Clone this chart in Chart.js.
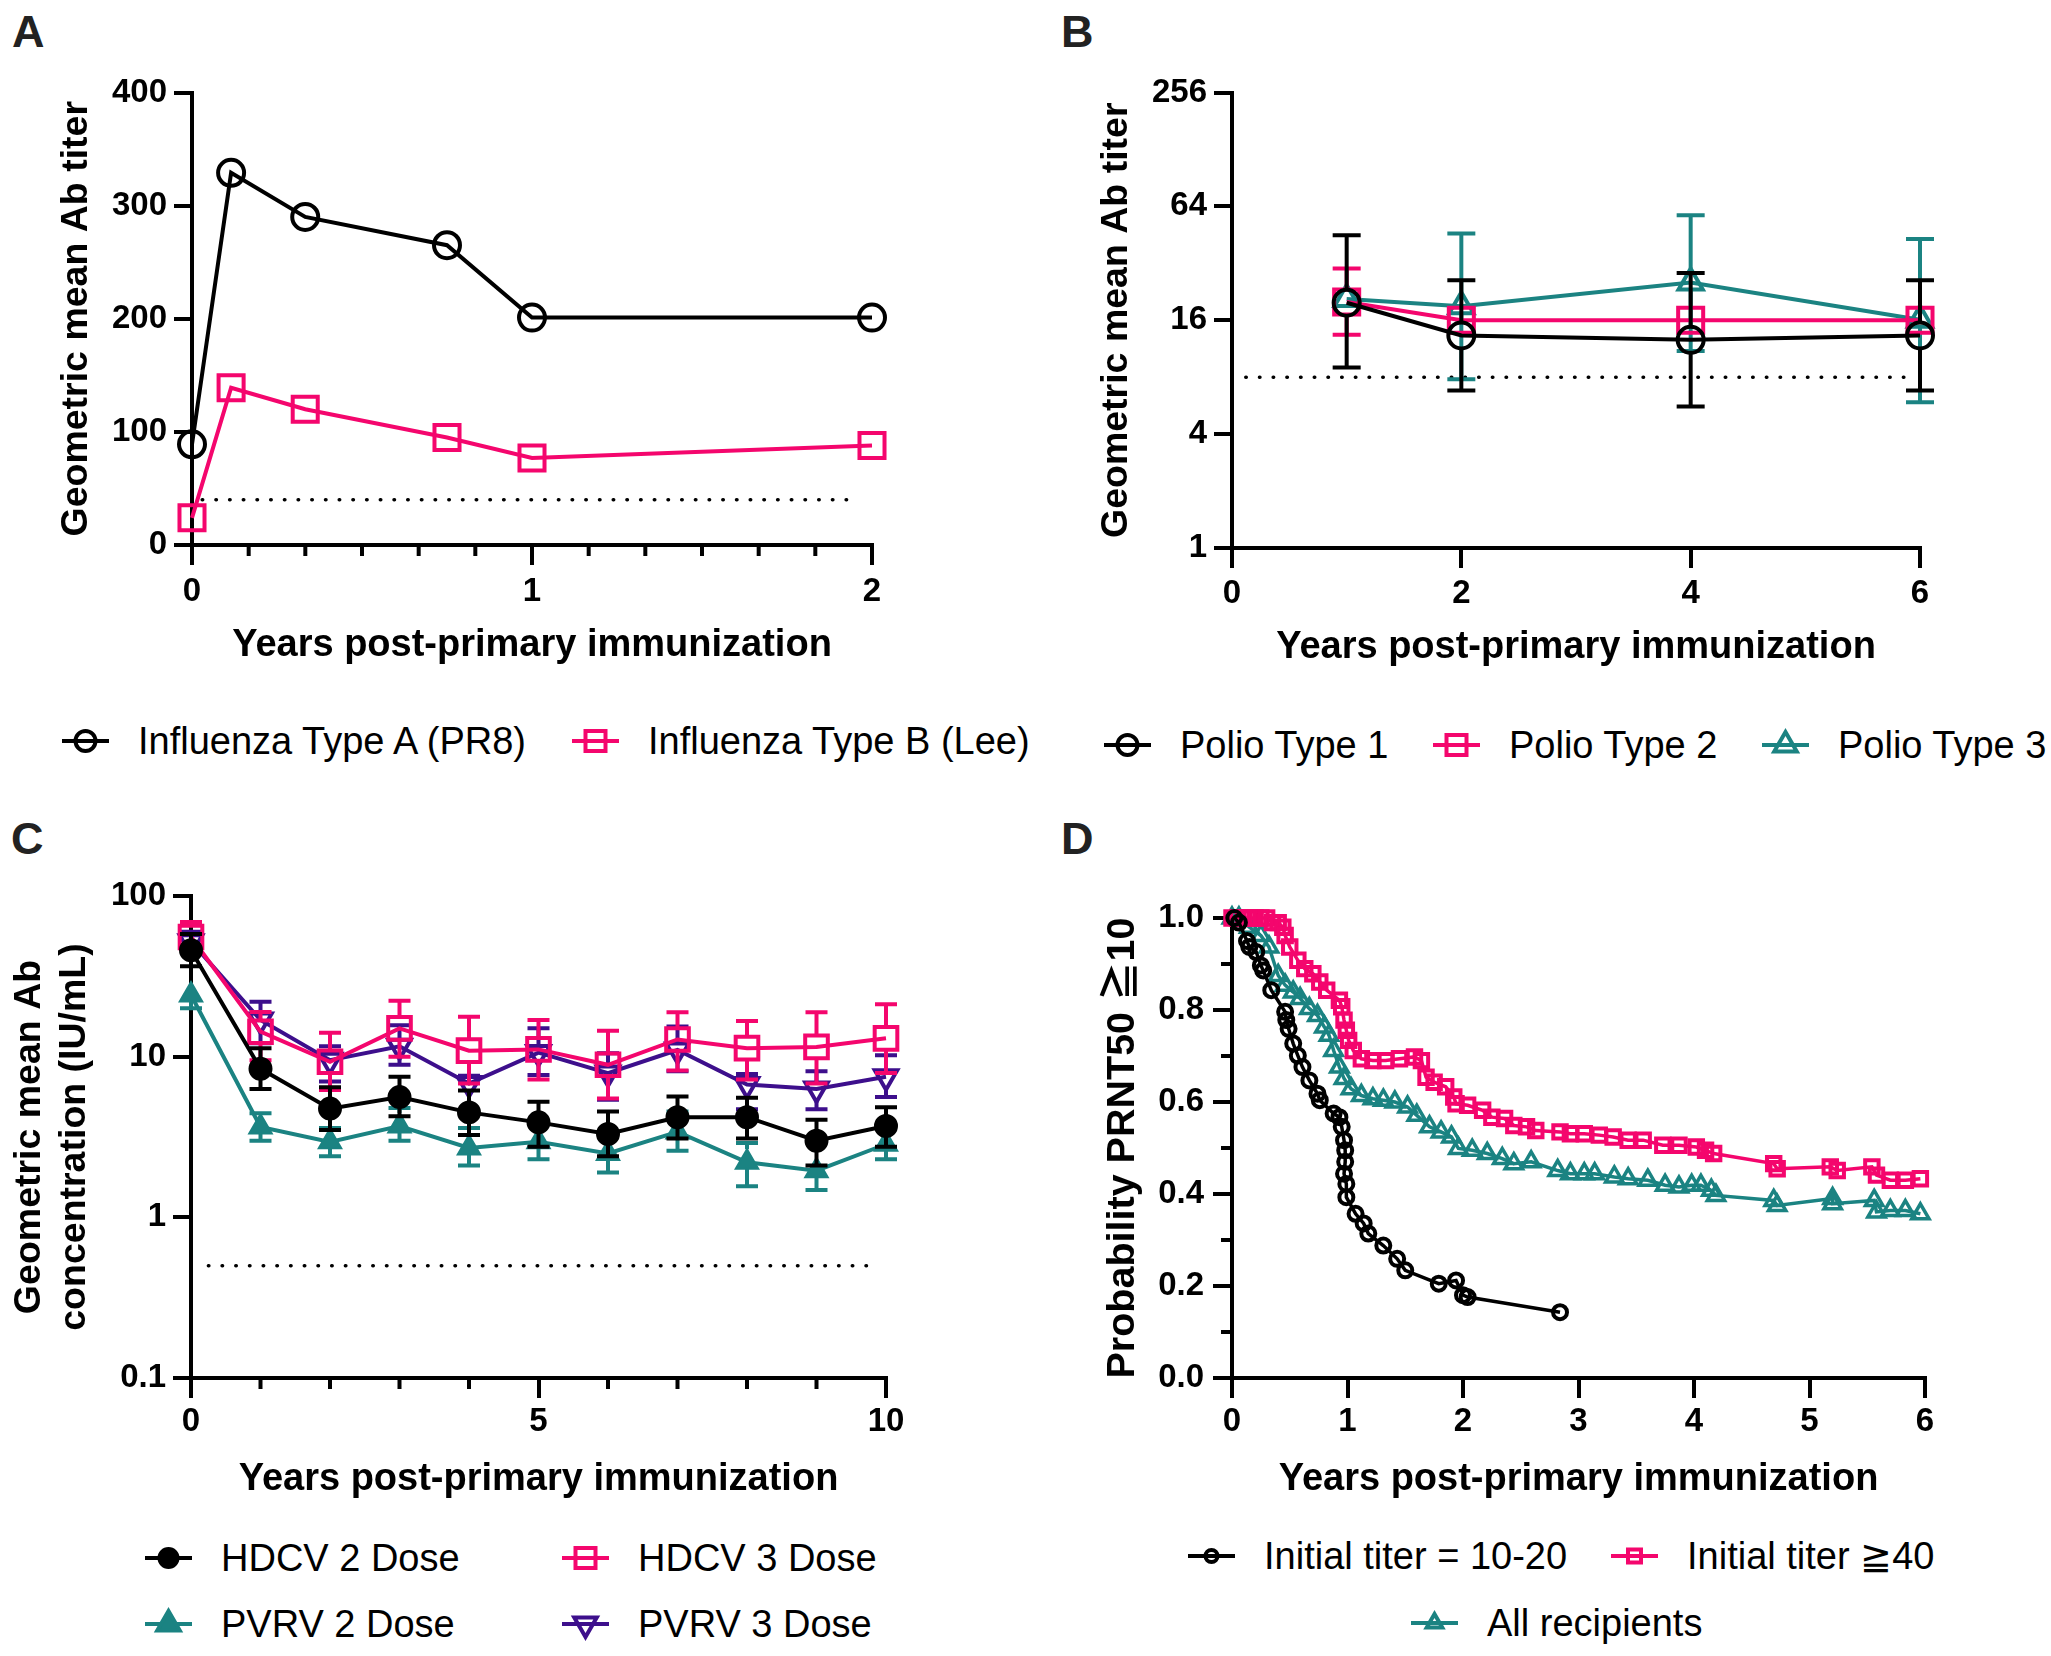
<!DOCTYPE html>
<html>
<head>
<meta charset="utf-8">
<script src="https://cdn.jsdelivr.net/npm/chart.js@4.4.1/dist/chart.umd.min.js"></script>
<style>
body { margin: 0; background: #fff; }
#fig { position: relative; width: 2051px; height: 1656px; background: #fff; font-family: 'Liberation Sans', Arial, sans-serif; overflow: hidden; }
#fig canvas { position: absolute; }
.panel { position: absolute; font-weight: bold; font-size: 45px; line-height: 45px; color: #222; }
.leg { position: absolute; height: 44px; display: flex; align-items: center; font-size: 38px; line-height: 44px; white-space: nowrap; color: #000; }
.leg span { line-height: 44px; }
.leg svg { margin-right: 29px; flex: none; }
</style>
</head>
<body>
<div id="fig">
  <div class="panel" style="left:12px;top:9px">A</div>
  <div class="panel" style="left:1061px;top:9px">B</div>
  <div class="panel" style="left:11px;top:816px">C</div>
  <div class="panel" style="left:1061px;top:816px">D</div>
  <canvas id="chartA" width="1025" height="668" style="left:0;top:0"></canvas>
  <canvas id="chartB" width="1026" height="670" style="left:1025px;top:0"></canvas>
  <canvas id="chartC" width="1025" height="702" style="left:0;top:800px"></canvas>
  <canvas id="chartD" width="1026" height="702" style="left:1025px;top:800px"></canvas>
</div>
<script>
// ---- panel A: influenza
var fluYears = [0, 0.115, 0.333, 0.75, 1, 2];
var fluTypeA = [89, 329, 290, 265, 201, 201];
var fluTypeB = [24, 139, 120, 95, 77, 88];
var fluCutoff = 40;
var fluCutoffX = [0.03, 1.96];
var aTicksX = [0, 1, 2];
var aMinorX = [0.1667, 0.3333, 0.5, 0.6667, 0.8333, 1.1667, 1.3333, 1.5, 1.6667, 1.8333];
var aTicksY = [0, 100, 200, 300, 400];

// ---- panel B: polio
var polioYears = [1, 2, 4, 6];
var polio1 = [19.8, 13.3, 12.6, 13.3];
var polio1Hi = [45, 26, 28.4, 26];
var polio1Lo = [9, 6.8, 5.6, 6.8];
var polio2 = [20, 16, 16, 16];
var polio2Hi = [30, null, null, null];
var polio2Lo = [13.4, null, null, null];
var polio3 = [20.7, 19, 25.3, 16.1];
var polio3Hi = [null, 46, 57.5, 43];
var polio3Lo = [null, 7.8, 11, 5.9];
var polioCutoff = 8;
var polioCutoffX = [0.12, 5.92];
var bTicksX = [0, 2, 4, 6];
var bTicksY = [1, 4, 16, 64, 256];

// ---- panel C: rabies
var rabiesYears = [0, 1, 2, 3, 4, 5, 6, 7, 8, 9, 10];
var hdcv2 = [46, 8.4, 4.75, 5.6, 4.5, 3.9, 3.3, 4.2, 4.2, 3.0, 3.7];
var hdcv2Hi = [58, 11.3, 6.45, 7.5, 6.15, 5.25, 4.55, 5.65, 5.55, 4.05, 4.85];
var hdcv2Lo = [36.6, 6.3, 3.5, 4.25, 3.25, 2.75, 2.4, 3.1, 3.1, 2.1, 2.75];
var pvrv2 = [24.2, 3.65, 2.95, 3.7, 2.7, 2.95, 2.5, 3.4, 2.2, 1.95, 2.85];
var pvrv2Hi = [28.3, 4.45, 3.6, 4.8, 3.6, 3.55, 2.9, 4.55, 2.9, 2.3, 3.3];
var pvrv2Lo = [20, 3.0, 2.4, 3.0, 2.1, 2.3, 1.9, 2.6, 1.56, 1.48, 2.3];
var hdcv3 = [55.6, 14.3, 9.3, 15, 10.9, 11.1, 8.9, 12.8, 11.3, 11.5, 13];
var hdcv3Hi = [69, 19, 14.1, 22.3, 17.7, 16.9, 14.5, 18.9, 16.7, 18.9, 21.2];
var hdcv3Lo = [45, 9.5, 6.2, 10, 6.8, 7.2, 5.5, 8.2, 7.2, 6.8, 7.9];
var pvrv3 = [52, 16.9, 9.5, 11.6, 6.8, 10.6, 7.9, 11, 6.7, 6.3, 7.5];
var pvrv3Hi = [60, 22, 11.6, 15.7, 7.6, 15, 10.5, 15.4, 7.8, 8.1, 10.2];
var pvrv3Lo = [44, 12.1, 7, 8.9, 5.9, 7.7, 5.4, 8.1, 4.7, 4.7, 5.6];
var rabiesCutoff = 0.5;
var rabiesCutoffX = [0.25, 9.8];
var cTicksX = [0, 5, 10];
var cMinorX = [1, 2, 3, 4, 6, 7, 8, 9];
var cTicksY = [0.1, 1, 10, 100];

// ---- panel D: survival of PRNT50 >= 10
var lowX = [0.02, 0.06, 0.13, 0.15, 0.21, 0.25, 0.27, 0.34, 0.46, 0.47, 0.49, 0.53, 0.57, 0.61, 0.67, 0.74, 0.76, 0.88, 0.93, 0.95,
            0.97, 0.98, 0.98, 0.97, 0.99, 0.99, 1.07, 1.14, 1.18, 1.31, 1.43, 1.50, 1.79, 1.94, 2.00, 2.04, 2.84];
var lowY = [1.0, 0.99, 0.95, 0.937, 0.926, 0.897, 0.886, 0.843, 0.796, 0.778, 0.759, 0.727, 0.701, 0.676, 0.647, 0.618, 0.604, 0.575, 0.567, 0.546,
            0.517, 0.495, 0.47, 0.444, 0.422, 0.393, 0.357, 0.336, 0.314, 0.288, 0.259, 0.234, 0.205, 0.212, 0.18, 0.176, 0.143];
var highX = [0, 0.05, 0.1, 0.15, 0.2, 0.25, 0.3, 0.35, 0.4, 0.44, 0.46, 0.5, 0.57, 0.63, 0.7, 0.76, 0.82, 0.93, 0.95, 0.97,
             0.99, 1.01, 1.05, 1.12, 1.22, 1.33, 1.45, 1.58, 1.64, 1.68, 1.75, 1.85, 1.92, 1.94, 2.04, 2.17, 2.25, 2.36, 2.44, 2.55,
             2.63, 2.84, 2.93, 3.05, 3.18, 3.3, 3.43, 3.56, 3.73, 3.87, 4.02, 4.1, 4.17, 4.69, 4.72, 5.18, 5.24, 5.54, 5.58, 5.7, 5.83, 5.96];
var highY = [1, 1, 1, 1, 1, 1, 1, 0.99, 0.99, 0.98, 0.962, 0.937, 0.908, 0.89, 0.879, 0.861, 0.843, 0.821, 0.807, 0.778,
             0.756, 0.734, 0.712, 0.694, 0.69, 0.69, 0.694, 0.698, 0.69, 0.654, 0.643, 0.633, 0.611, 0.596, 0.593, 0.582, 0.567, 0.564, 0.549, 0.546,
             0.538, 0.535, 0.531, 0.531, 0.528, 0.524, 0.517, 0.517, 0.506, 0.506, 0.502, 0.495, 0.488, 0.466, 0.455, 0.459, 0.451, 0.459, 0.441, 0.43, 0.43, 0.433];
var allX = [0, 0.06, 0.15, 0.25, 0.32, 0.4, 0.46, 0.53, 0.59, 0.67, 0.74, 0.8, 0.84, 0.88, 0.93, 0.97, 1.03, 1.12, 1.22, 1.31,
            1.41, 1.52, 1.6, 1.71, 1.81, 1.9, 1.96, 2.08, 2.21, 2.34, 2.44, 2.59, 2.82, 2.93, 3.05, 3.14, 3.31, 3.43, 3.6, 3.75,
            3.87, 3.98, 4.06, 4.15, 4.19, 4.69, 4.72, 5.2, 5.2, 5.56, 5.58, 5.7, 5.83, 5.96];
var allY = [1, 1, 0.98, 0.962, 0.937, 0.875, 0.854, 0.839, 0.825, 0.803, 0.788, 0.763, 0.745, 0.712, 0.676, 0.651, 0.629, 0.614, 0.607, 0.604,
            0.6, 0.589, 0.571, 0.546, 0.535, 0.524, 0.499, 0.495, 0.488, 0.477, 0.466, 0.47, 0.451, 0.444, 0.444, 0.444, 0.437, 0.433, 0.43, 0.419,
            0.415, 0.419, 0.419, 0.408, 0.397, 0.386, 0.375, 0.39, 0.379, 0.386, 0.361, 0.364, 0.364, 0.357];
var dTicksX = [0, 1, 2, 3, 4, 5, 6];
var dTicksY = [0, 0.2, 0.4, 0.6, 0.8, 1.0];
var dMinorY = [0.1, 0.3, 0.5, 0.7, 0.9];

var PINK = '#f4066d';
var TEAL = '#1b8382';
var PURPLE = '#3d0f8c';
var BLACK = '#000000';

Chart.defaults.font.family = "'Liberation Sans', Arial, 'Noto Sans CJK JP', sans-serif";
Chart.defaults.color = '#000';

var tickFont = { size: 33, weight: 'bold' };

function xy(xs, ys) {
  return xs.map(function (x, i) { return { x: x, y: ys[i] }; });
}

// axis with a fixed list of ticks and a fixed box size, so the plot area lands where the figure has it
function axis(o) {
  return {
    type: o.type || 'linear',
    min: o.min,
    max: o.max,
    afterBuildTicks: function (s) {
      s.ticks = o.ticks.map(function (v) { return { value: v }; });
    },
    afterFit: function (s) {
      if (s.isHorizontal()) s.height = o.size; else s.width = o.size;
    },
    border: { display: true, color: '#000', width: 4 },
    grid: { drawOnChartArea: false, drawTicks: true, tickLength: o.tickLen, tickWidth: 4, tickColor: '#000', lineWidth: 4, color: '#000' },
    ticks: {
      font: tickFont, color: '#000', padding: o.pad, autoSkip: false, maxRotation: 0, minRotation: 0,
      callback: o.fmt || function (v) { return String(v); }
    },
    title: {
      display: true, text: o.title, color: '#000',
      font: { size: o.titleSize || 38, weight: 'bold', lineHeight: o.lh || 1.2 },
      padding: { top: o.titlePad || 0, bottom: 0 }
    }
  };
}

function series(label, xs, ys, color, o) {
  return {
    label: label,
    data: xy(xs, ys),
    borderColor: color,
    borderWidth: o.lw || 4,
    pointStyle: o.shape,
    pointRadius: o.r,
    pointRotation: o.rot || 0,
    pointBorderWidth: o.pbw || 4,
    pointBorderColor: color,
    pointBackgroundColor: o.filled ? color : 'rgba(0,0,0,0)',
    fill: false,
    tension: 0,
    clip: false,
    errHi: o.hi, errLo: o.lo, errGap: o.gap, errCap: o.cap,
    legendAt: o.legendAt, legendR: o.legendR, legendFilled: !!o.filled
  };
}

function cutoffLine(xs, y) {
  return {
    label: 'cutoff',
    data: [{ x: xs[0], y: y }, { x: xs[1], y: y }],
    borderColor: '#000', borderWidth: 3.5,
    borderDash: [0.5, 13.2], borderCapStyle: 'round',
    pointRadius: 0, clip: false, tension: 0
  };
}

// error bars: drawn from the marker edge to the whisker value, with a cap
var errorBars = {
  id: 'errorBars',
  afterDatasetDraw: function (chart, args) {
    var d = chart.data.datasets[args.index];
    if (!d.errHi && !d.errLo) return;
    var ctx = chart.ctx, ys = chart.scales.y;
    var gap = d.errGap || [0, 0], cap = d.errCap || 12;
    ctx.save();
    ctx.strokeStyle = d.borderColor;
    ctx.lineWidth = 4;
    args.meta.data.forEach(function (pt, i) {
      [[d.errHi, -1, gap[0]], [d.errLo, 1, gap[1]]].forEach(function (e) {
        if (!e[0] || e[0][i] == null) return;
        var py = ys.getPixelForValue(e[0][i]);
        if (Math.abs(py - pt.y) <= e[2]) return;
        ctx.beginPath();
        ctx.moveTo(pt.x, pt.y + e[1] * e[2]);
        ctx.lineTo(pt.x, py);
        ctx.moveTo(pt.x - cap, py);
        ctx.lineTo(pt.x + cap, py);
        ctx.stroke();
      });
    });
    ctx.restore();
  }
};

// unlabelled short ticks between the labelled ones
function minorTicks(axisId, values, len) {
  return {
    id: 'minor_' + axisId,
    afterDraw: function (chart) {
      var s = chart.scales[axisId], ctx = chart.ctx;
      ctx.save();
      ctx.strokeStyle = '#000';
      ctx.lineWidth = 4;
      ctx.beginPath();
      values.forEach(function (v) {
        var p = s.getPixelForValue(v);
        if (s.isHorizontal()) { ctx.moveTo(p, s.top); ctx.lineTo(p, s.top + len); }
        else { ctx.moveTo(s.right - len, p); ctx.lineTo(s.right, p); }
      });
      ctx.stroke();
      ctx.restore();
    }
  };
}

function iconSvg(color, shape, filled, r, rot) {
  var fill = filled ? color : 'none';
  var m;
  if (shape === 'circle') {
    m = '<circle cx="23.5" cy="22" r="' + r + '"/>';
  } else if (shape === 'rect') {
    m = '<rect x="' + (23.5 - r) + '" y="' + (22 - r) + '" width="' + (2 * r) + '" height="' + (2 * r) + '"/>';
  } else {
    var k = rot ? -1 : 1;
    m = '<polygon points="23.5,' + (22 - k * r) + ' ' + (23.5 - r * 0.866) + ',' + (22 + k * r / 2) + ' ' +
        (23.5 + r * 0.866) + ',' + (22 + k * r / 2) + '"/>';
  }
  return '<svg width="47" height="44" viewBox="0 0 47 44"><line x1="0" y1="22" x2="47" y2="22" stroke="' + color +
         '" stroke-width="4"/><g fill="' + fill + '" stroke="' + color + '" stroke-width="4">' + m + '</g></svg>';
}

function buildLegend(chart) {
  var fig = document.getElementById('fig');
  chart.data.datasets.forEach(function (d) {
    if (!d.legendAt) return;
    var item = document.createElement('div');
    item.className = 'leg';
    item.style.left = d.legendAt[0] + 'px';
    item.style.top = (d.legendAt[1] - 22) + 'px';
    item.innerHTML = iconSvg(d.borderColor, d.pointStyle, d.legendFilled, d.legendR, d.pointRotation);
    var span = document.createElement('span');
    span.textContent = d.label;
    item.appendChild(span);
    fig.appendChild(item);
  });
}

function makeChart(id, padding, datasets, xScale, yScale, extra) {
  var chart = new Chart(document.getElementById(id), {
    type: 'line',
    data: { datasets: datasets },
    options: {
      responsive: false,
      animation: false,
      devicePixelRatio: 1,
      events: [],
      layout: { padding: padding },
      plugins: { legend: { display: false }, tooltip: { enabled: false } },
      scales: { x: xScale, y: yScale }
    },
    plugins: [errorBars].concat(extra || [])
  });
  buildLegend(chart);
  return chart;
}

// A
makeChart('chartA', { top: 92.5, right: 153, bottom: 0, left: 0 }, [
  series('Influenza Type A (PR8)', fluYears, fluTypeA, BLACK, { shape: 'circle', r: 13, legendAt: [62, 741], legendR: 10 }),
  series('Influenza Type B (Lee)', fluYears, fluTypeB, PINK, { shape: 'rect', r: 17.7, legendAt: [572, 741], legendR: 10 }),
  cutoffLine(fluCutoffX, fluCutoff)
],
  axis({ min: 0, max: 2, ticks: aTicksX, size: 123, tickLen: 20, pad: 7.2, title: 'Years post-primary immunization' }),
  axis({ min: 0, max: 400, ticks: aTicksY, size: 192, tickLen: 18, pad: 7, title: 'Geometric mean Ab titer', titleSize: 37.5, titlePad: 54.5 }),
  [minorTicks('x', aMinorX, 11)]);

// B
makeChart('chartB', { top: 92.5, right: 131, bottom: 0, left: 0 }, [
  series('Polio Type 1', polioYears, polio1, BLACK, { shape: 'circle', r: 13, hi: polio1Hi, lo: polio1Lo, gap: [13, 13], cap: 14, legendAt: [1104, 745], legendR: 10 }),
  series('Polio Type 2', polioYears, polio2, PINK, { shape: 'rect', r: 17.7, hi: polio2Hi, lo: polio2Lo, gap: [12.5, 12.5], cap: 14, legendAt: [1433, 745], legendR: 10 }),
  series('Polio Type 3', polioYears, polio3, TEAL, { shape: 'triangle', r: 14, hi: polio3Hi, lo: polio3Lo, gap: [14, 7], cap: 14, legendAt: [1762, 745], legendR: 13 }),
  cutoffLine(polioCutoffX, polioCutoff)
],
  axis({ min: 0, max: 6, ticks: bTicksX, size: 122, tickLen: 20, pad: 6.2, title: 'Years post-primary immunization' }),
  axis({ type: 'logarithmic', min: 1, max: 256, ticks: bTicksY, size: 207, tickLen: 18, pad: 7, title: 'Geometric mean Ab titer', titleSize: 37.5, titlePad: 69.5 }));

// C
makeChart('chartC', { top: 96, right: 139, bottom: 0, left: 0 }, [
  series('HDCV 2 Dose', rabiesYears, hdcv2, BLACK, { shape: 'circle', r: 11, pbw: 2, filled: true, hi: hdcv2Hi, lo: hdcv2Lo, gap: [11, 11], cap: 11, legendAt: [145, 1558], legendR: 9 }),
  series('HDCV 3 Dose', rabiesYears, hdcv3, PINK, { shape: 'rect', r: 16, hi: hdcv3Hi, lo: hdcv3Lo, gap: [11.3, 11.3], cap: 11, legendAt: [562, 1558], legendR: 10 }),
  series('PVRV 3 Dose', rabiesYears, pvrv3, PURPLE, { shape: 'triangle', r: 13, rot: 180, hi: pvrv3Hi, lo: pvrv3Lo, gap: [6.5, 13], cap: 11, legendAt: [562, 1624], legendR: 13 }),
  series('PVRV 2 Dose', rabiesYears, pvrv2, TEAL, { shape: 'triangle', r: 13, pbw: 2, filled: true, hi: pvrv2Hi, lo: pvrv2Lo, gap: [13, 6.5], cap: 11, legendAt: [145, 1624], legendR: 13 }),
  cutoffLine(rabiesCutoffX, rabiesCutoff)
],
  axis({ min: 0, max: 10, ticks: cTicksX, size: 124, tickLen: 20, pad: 4.2, title: 'Years post-primary immunization' }),
  axis({ type: 'logarithmic', min: 0.1, max: 100, ticks: cTicksY, size: 191, tickLen: 18, pad: 7,
         title: ['Geometric mean Ab', 'concentration (IU/mL)'], titleSize: 37.5, lh: 1.22, titlePad: 6.5 }),
  [minorTicks('x', cMinorX, 11)]);

// D
makeChart('chartD', { top: 118, right: 126, bottom: 0, left: 0 }, [
  series('Initial titer = 10-20', lowX, lowY, BLACK, { shape: 'circle', r: 7, lw: 3.5, pbw: 4, legendAt: [1188, 1556], legendR: 6 }),
  series('Initial titer \u226740', highX, highY, PINK, { shape: 'rect', r: 9.5, lw: 3.5, pbw: 4, legendAt: [1611, 1556], legendR: 6.5 }),
  series('All recipients', allX, allY, TEAL, { shape: 'triangle', r: 10, lw: 3.5, pbw: 3.5, legendAt: [1411, 1623], legendR: 9 })
],
  axis({ min: 0, max: 6, ticks: dTicksX, size: 124, tickLen: 20, pad: 4.2, title: 'Years post-primary immunization' }),
  axis({ min: 0, max: 1, ticks: dTicksY, size: 207, tickLen: 19, pad: 9, title: 'Probability PRNT50 \u226710', titleSize: 39.5, titlePad: 74.5,
         fmt: function (v) { return v.toFixed(1); } }),
  [minorTicks('y', dMinorY, 11)]);
</script>
</body>
</html>
